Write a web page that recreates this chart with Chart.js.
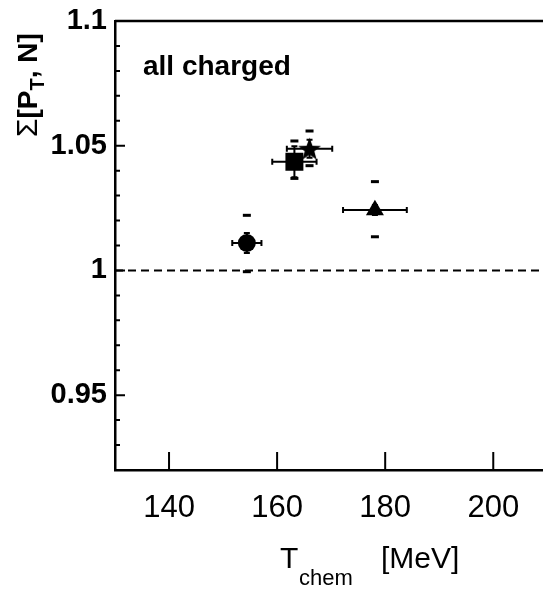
<!DOCTYPE html>
<html>
<head>
<meta charset="utf-8">
<script src="https://cdn.jsdelivr.net/npm/chart.js@4.4.1/dist/chart.umd.min.js"></script>
<style>
  html, body { margin: 0; padding: 0; background: #fff; overflow: hidden; }
  canvas { display: block; }
</style>
</head>
<body>
<canvas id="sigmaChart" width="560" height="589"></canvas>
<script>
// values
const tempChem = [154.4, 163.2, 166.0, 178.1];      // T_chem [MeV]
const sigmaPtN = [1.011, 1.0436, 1.0488, 1.0242];   // Sigma[P_T, N]
const tempErr = [2.7, 4.1, 4.2, 5.9];
const statErr = [0.004, 0.0062, 0.0036, 0.002];
const sysHigh = [1.0221, 1.0519, 1.0559, 1.0356];
const sysLow = [0.9995, 1.0369, 1.0420, 1.0135];
const xTicks = [140, 160, 180, 200];
const yTicks = [0.95, 1, 1.05, 1.1];
const referenceLevel = 1;

const FONT = '"Liberation Sans", Arial, Helvetica, sans-serif';

function starImage(R) {
  const c = document.createElement('canvas');
  const w = Math.ceil(2 * R * Math.sin(2 * Math.PI / 5)) + 2;
  const h = Math.ceil(R * (1 + Math.cos(Math.PI / 5))) + 2;
  c.width = w; c.height = h;
  const g = c.getContext('2d');
  const cx = w / 2, cy = 1 + R;
  const r = R * 0.42;
  g.beginPath();
  for (let k = 0; k < 10; k++) {
    const rad = k % 2 === 0 ? R : r;
    const a = -Math.PI / 2 + k * Math.PI / 5;
    const px = cx + rad * Math.cos(a), py = cy + rad * Math.sin(a);
    k === 0 ? g.moveTo(px, py) : g.lineTo(px, py);
  }
  g.closePath();
  g.fillStyle = '#000';
  g.fill();
  return c;
}

const markers = [
  { style: 'circle', radius: 9 },
  { style: 'rect', radius: 12.7 },
  { style: starImage(12), radius: 12 },
  { style: 'triangle', radius: 10.4 }
];

const errorBars = {
  id: 'errorBars',
  beforeDatasetsDraw(chart) {
    const { ctx, scales: { x, y } } = chart;
    ctx.save();
    ctx.strokeStyle = '#000';
    ctx.fillStyle = '#000';
    ctx.lineWidth = 2;
    tempChem.forEach((t, i) => {
      const px = x.getPixelForValue(t);
      const py = y.getPixelForValue(sigmaPtN[i]);
      const xl = x.getPixelForValue(t - tempErr[i]);
      const xr = x.getPixelForValue(t + tempErr[i]);
      const yt = y.getPixelForValue(sigmaPtN[i] + statErr[i]);
      const yb = y.getPixelForValue(sigmaPtN[i] - statErr[i]);
      ctx.beginPath();
      ctx.moveTo(xl, py); ctx.lineTo(xr, py);
      ctx.moveTo(xl, py - 3); ctx.lineTo(xl, py + 3);
      ctx.moveTo(xr, py - 3); ctx.lineTo(xr, py + 3);
      ctx.moveTo(px, yt); ctx.lineTo(px, yb);
      ctx.moveTo(px - 3, yt); ctx.lineTo(px + 3, yt);
      ctx.moveTo(px - 3, yb); ctx.lineTo(px + 3, yb);
      ctx.stroke();
      [sysHigh[i], sysLow[i]].forEach((v) => {
        const yy = y.getPixelForValue(v);
        ctx.fillRect(px - 4, yy - 1.5, 8, 3);
      });
    });
    ctx.restore();
  }
};

const frame = {
  id: 'frame',
  afterDraw(chart) {
    const { ctx, chartArea: a, scales: { x, y } } = chart;
    ctx.save();
    ctx.strokeStyle = '#000';
    ctx.fillStyle = '#000';

    // top frame line
    ctx.lineWidth = 2.5;
    ctx.beginPath();
    ctx.moveTo(a.left, a.top); ctx.lineTo(a.right, a.top);
    ctx.stroke();

    // inward tick marks
    ctx.lineWidth = 2;
    ctx.beginPath();
    xTicks.forEach((v) => {
      const px = x.getPixelForValue(v);
      ctx.moveTo(px, a.bottom); ctx.lineTo(px, a.bottom - 18);
    });
    for (let k = 93; k <= 110; k++) {
      const py = y.getPixelForValue(k / 100);
      ctx.moveTo(a.left, py);
      ctx.lineTo(a.left + (k % 5 === 0 ? 10 : 5), py);
    }
    ctx.stroke();

    // label inside the frame
    ctx.textBaseline = 'alphabetic';
    ctx.textAlign = 'left';
    ctx.font = 'bold 28px ' + FONT;
    ctx.fillText('all charged', 143, 75);

    // x title: T_chem [MeV]
    ctx.font = '30px ' + FONT;
    ctx.fillText('T', 280, 568);
    ctx.font = '22px ' + FONT;
    ctx.fillText('chem', 299, 585);
    ctx.font = '30px ' + FONT;
    ctx.fillText('[MeV]', 381, 568);

    // y title: Σ[P_T, N]
    ctx.translate(37, 137);
    ctx.rotate(-Math.PI / 2);
    let cx = 0;
    ctx.font = '30px ' + FONT;
    ctx.fillText('\u03A3', cx, 0);
    cx += ctx.measureText('\u03A3').width;
    ctx.font = 'bold 28px ' + FONT;
    ctx.fillText('[P', cx, 0);
    cx += ctx.measureText('[P').width;
    ctx.font = 'bold 20px ' + FONT;
    ctx.fillText('T', cx, 7);
    cx += ctx.measureText('T').width;
    ctx.font = 'bold 28px ' + FONT;
    ctx.fillText(', N]', cx, 0);
    ctx.restore();
  }
};

const datasets = [
  {
    data: [{ x: 130, y: referenceLevel }, { x: 210, y: referenceLevel }],
    showLine: true,
    borderColor: '#000',
    borderWidth: 2,
    borderDash: [8, 5],
    pointRadius: 0,
    order: 5
  },
  ...tempChem.map((t, i) => ({
    data: [{ x: t, y: sigmaPtN[i] }],
    pointStyle: markers[i].style,
    pointRadius: markers[i].radius,
    backgroundColor: '#000',
    borderColor: '#000',
    borderWidth: 0,
    order: 1
  }))
];

new Chart(document.getElementById('sigmaChart'), {
  type: 'scatter',
  data: { datasets },
  options: {
    responsive: false,
    animation: false,
    layout: { padding: { top: 21, right: 0, left: 0, bottom: 0 } },
    plugins: { legend: { display: false }, tooltip: { enabled: false } },
    scales: {
      x: {
        type: 'linear',
        min: 130,
        max: 210,
        afterBuildTicks: (s) => { s.ticks = xTicks.map((v) => ({ value: v })); },
        afterFit: (s) => { s.height = 119; s.paddingLeft = 0; s.paddingRight = 0; },
        ticks: { color: '#000', font: { family: FONT, size: 31 }, padding: 20, autoSkip: false, maxRotation: 0 },
        grid: { display: false, drawTicks: false },
        border: { display: true, color: '#000', width: 2.5 }
      },
      y: {
        type: 'linear',
        min: 0.92,
        max: 1.1,
        afterBuildTicks: (s) => { s.ticks = yTicks.map((v) => ({ value: v })); },
        afterFit: (s) => { s.width = 115; s.paddingTop = 0; s.paddingBottom = 0; },
        ticks: {
          color: '#000',
          font: { family: FONT, size: 29, weight: 'bold' },
          padding: 8,
          autoSkip: false,
          callback: (v) => String(Math.round(v * 100) / 100)
        },
        grid: { display: false, drawTicks: false },
        border: { display: true, color: '#000', width: 2.5 }
      }
    }
  },
  plugins: [errorBars, frame]
});
</script>
</body>
</html>
